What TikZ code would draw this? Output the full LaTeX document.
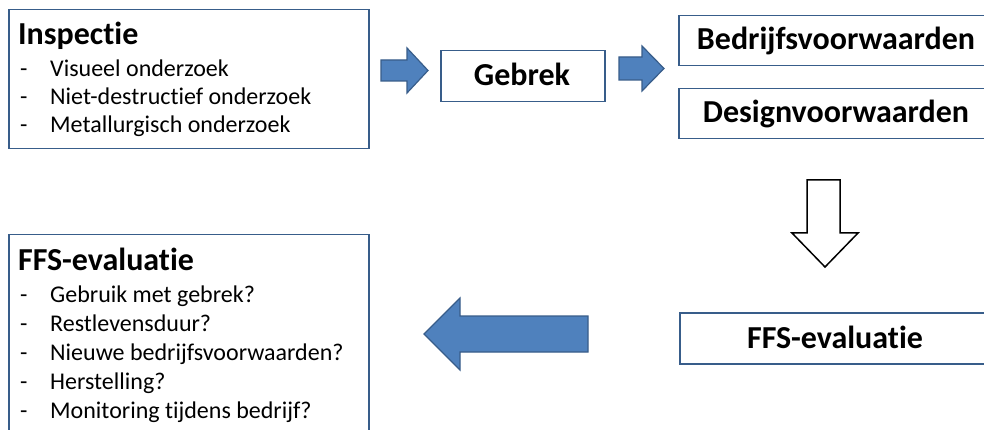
\documentclass[tikz,border=0pt]{standalone}
\usepackage{fontspec}
\setmainfont{Carlito}[Ligatures=CommonOff]
\definecolor{boxblue}{HTML}{385D8A}
\definecolor{arrowblue}{HTML}{4F81BD}
\newcommand\ttlfont{\fontsize{32}{38}\selectfont\bfseries}
\newcommand\itemfont{\fontsize{24}{29}\selectfont}
\begin{document}
\begin{tikzpicture}[x=1pt,y=-1pt,
  box/.style={draw=boxblue, line width=1.5pt, fill=white, inner sep=0pt, anchor=north west},
  ttl/.style={anchor=base west, inner sep=0pt, font=\ttlfont},
  ctl/.style={anchor=base, inner sep=0pt, font=\ttlfont},
  itm/.style={anchor=base west, inner sep=0pt, font=\itemfont},
  barrow/.style={draw=boxblue, line width=1.2pt, fill=arrowblue, line join=miter},
  harrow/.style={draw=black, line width=1.5pt, fill=white, line join=miter}]
\useasboundingbox (0,0) rectangle (984,430);
\begin{scope}
\clip (0,0) rectangle (984,430);
\fill[white] (0,0) rectangle (984,430);
% boxes
\node[box, minimum width=360pt, minimum height=139pt] (insp) at (8,9) {};
\node[box, minimum width=164pt, minimum height=51pt] (gebrek) at (440,50) {};
\node[box, minimum width=314pt, minimum height=50pt] (bed) at (678,15) {};
\node[box, minimum width=314pt, minimum height=50pt] (design) at (678,88) {};
\node[box, minimum width=314pt, minimum height=51pt] (ffsr) at (679,312) {};
\node[box, minimum width=360pt, minimum height=210pt] (ffsl) at (8,234) {};
% texts
\node[ttl] (inspT) at (18,45) {Inspectie};
\node[itm] (d1) at (20,77) {-};
\node[itm] (i1) at (50,77) {Visueel onderzoek};
\node[itm] (d2) at (20,105) {-};
\node[itm] (i2) at (50,105) {Niet-destructief onderzoek};
\node[itm] (d3) at (20,133) {-};
\node[itm] (i3) at (50,133) {Metallurgisch onderzoek};
\node[ctl] (gebrekT) at (522,86) {Gebrek};
\node[ctl] (bedT) at (836,50) {Bedrijfsvoorwaarden};
\node[ctl] (designT) at (836,123) {Designvoorwaarden};
\node[ctl] (ffsrT) at (835,348) {FFS-evaluatie};
\node[ttl] (ffslT) at (18,270) {FFS-evaluatie};
\node[itm] (e1) at (20,302) {-};
\node[itm] (j1) at (50,302) {Gebruik met gebrek?};
\node[itm] (e2) at (20,331) {-};
\node[itm] (j2) at (50,331) {Restlevensduur?};
\node[itm] (e3) at (20,360) {-};
\node[itm] (j3) at (50,360) {Nieuwe bedrijfsvoorwaarden?};
\node[itm] (e4) at (20,389) {-};
\node[itm] (j4) at (50,389) {Herstelling?};
\node[itm] (e5) at (20,418) {-};
\node[itm] (j5) at (50,418) {Monitoring tijdens bedrijf?};
% block arrows
\draw[barrow] (381,60) -- (407,60) -- (407,48) -- (428,70.5) -- (407,93) -- (407,81) -- (381,81) -- cycle;
\draw[barrow] (619,57) -- (642,57) -- (642,46) -- (664,68.5) -- (642,91) -- (642,80) -- (619,80) -- cycle;
\draw[harrow] (807,180) -- (840,180) -- (840,233) -- (858,233) -- (825,267) -- (792,233) -- (807,233) -- cycle;
\draw[barrow] (588,316) -- (460,316) -- (460,298) -- (424,334) -- (460,370) -- (460,352) -- (588,352) -- cycle;
\end{scope}
\end{tikzpicture}
\end{document}
